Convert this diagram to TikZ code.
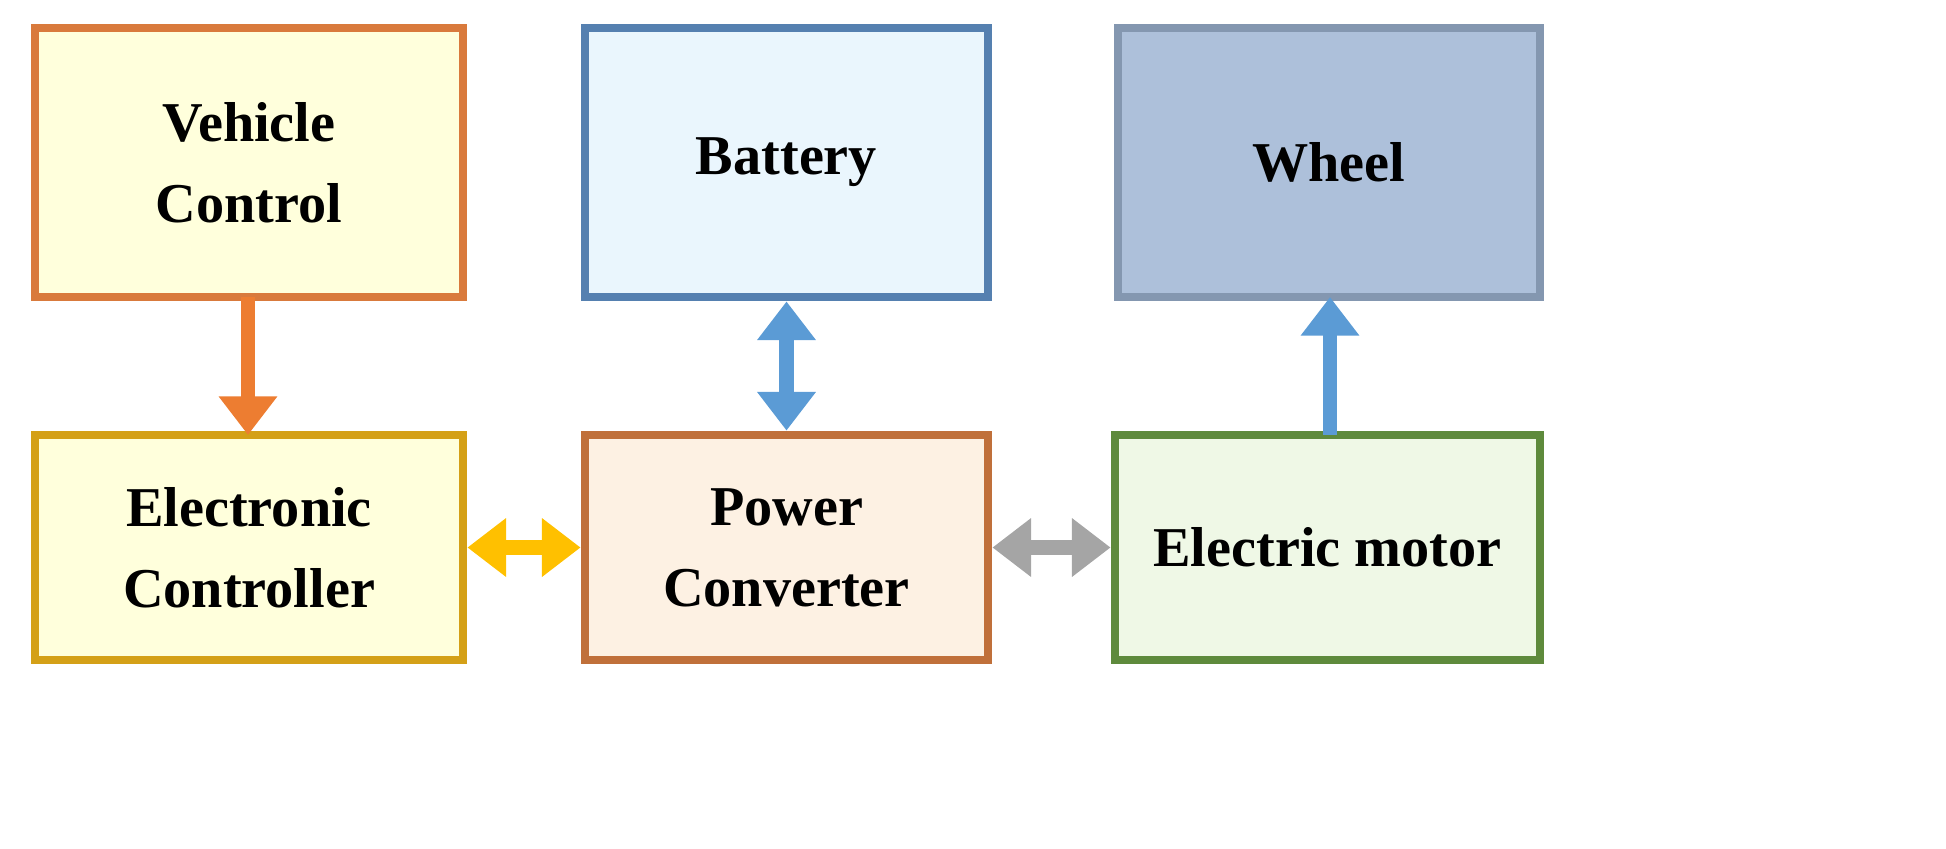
\documentclass[tikz,border=0pt]{standalone}
\usepackage{fontspec}
\setmainfont{Liberation Serif}
\usetikzlibrary{arrows.meta}
\tikzset{
  box/.style={rectangle, draw, line width=2.5pt, inner sep=0pt, align=center,
    font=\fontsize{16}{23}\selectfont\bfseries},
  conn/.style={line width=4pt, -{Triangle[length=11pt,width=16pt]}},
  conn2/.style={line width=4pt, {Triangle[length=11pt,width=16pt]}-{Triangle[length=11pt,width=16pt]}}
}
\definecolor{vcfill}{HTML}{FFFFDC}
\definecolor{vcline}{HTML}{D97A3C}
\definecolor{batfill}{HTML}{EAF6FD}
\definecolor{batline}{HTML}{5580B0}
\definecolor{whfill}{HTML}{ADC0DA}
\definecolor{whline}{HTML}{8497B0}
\definecolor{ecline}{HTML}{D4A017}
\definecolor{pcfill}{HTML}{FDF1E3}
\definecolor{pcline}{HTML}{C0703A}
\definecolor{emfill}{HTML}{EFF8E6}
\definecolor{emline}{HTML}{5E8A3C}
\definecolor{orangearr}{HTML}{ED7D31}
\definecolor{bluearr}{HTML}{5B9BD5}
\definecolor{yelarr}{HTML}{FFC000}
\definecolor{grayarr}{HTML}{A5A5A5}
\begin{document}
\begin{tikzpicture}
\useasboundingbox (0,0) rectangle (19.46,-8.48);
\node[box, fill=vcfill, draw=vcline, minimum width=4.28cm, minimum height=2.69cm] (vc) at (2.49,-1.625) {Vehicle\\Control};
\node[box, fill=batfill, draw=batline, minimum width=4.03cm, minimum height=2.69cm] (bat) at (7.865,-1.625) {Battery};
\node[box, fill=whfill, draw=whline, minimum width=4.22cm, minimum height=2.69cm] (wh) at (13.29,-1.625) {Wheel};
\node[box, fill=vcfill, draw=ecline, minimum width=4.28cm, minimum height=2.25cm] (ec) at (2.49,-5.475) {Electronic\\Controller};
\node[box, fill=pcfill, draw=pcline, minimum width=4.03cm, minimum height=2.25cm] (pc) at (7.865,-5.475) {Power\\Converter};
\node[box, fill=emfill, draw=emline, minimum width=4.25cm, minimum height=2.25cm] (em) at (13.275,-5.475) {Electric motor};
\coordinate (vcs) at (2.48,-2.97);
\coordinate (ect) at (2.48,-4.35);
\coordinate (emt) at (13.3,-4.35);
\coordinate (whb) at (13.3,-2.97);
\draw[conn, orangearr] (vcs) -- (ect);
\draw[conn2, bluearr] (bat) -- (pc);
\draw[conn, bluearr] (emt) -- (whb);
\draw[conn2, yelarr] (ec) -- (pc);
\draw[conn2, grayarr] (pc) -- (em);
\end{tikzpicture}
\end{document}
